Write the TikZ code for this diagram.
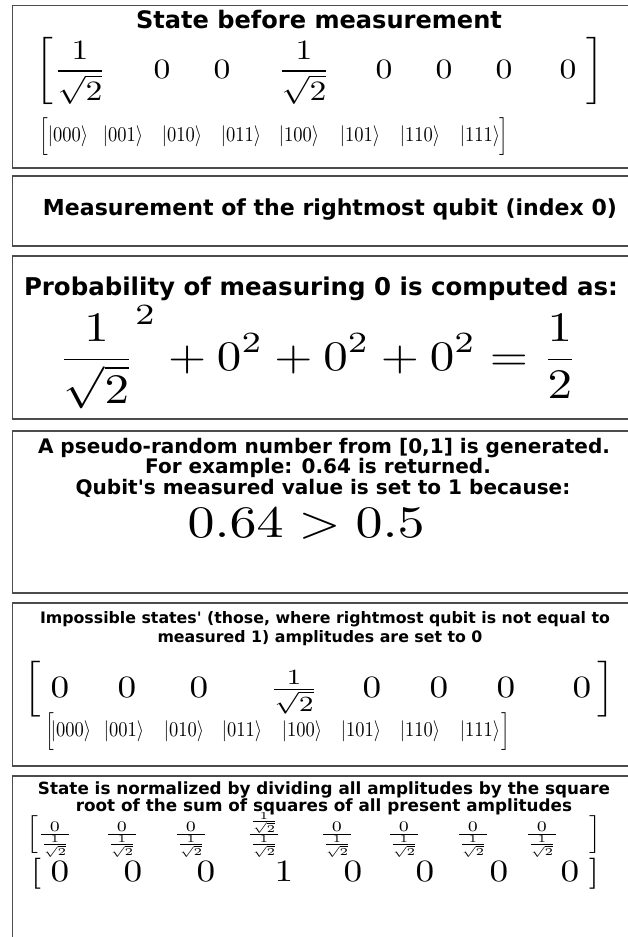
\documentclass[tikz,border=0pt]{standalone}
\usepackage[no-math]{fontspec}
\usepackage{amsmath}
\newfontfamily\vsans{DejaVu Sans}
\newlength\wl
\newcommand\fs[1]{\fontsize{#1}{#1}\selectfont}
\newcommand\bt[1]{{\fs{10}\vsans\bfseries #1}}
\newcommand\setblk[3]{\settowidth\wl{\bt{#3}}\xdef#1{\fpeval{(#2)/(\the\wl)}}}
\newcommand\mt[2]{\scalebox{\fpeval{0.12*#1}}[\fpeval{0.1*#1}]{\fs{10}$#2$}}
\newcommand\lbr[3]{\mt{#1}{\left[\vrule height \fpeval{10*#2/#1}pt depth \fpeval{10*#3/#1}pt width 0pt\right.}}
\newcommand\rbr[3]{\mt{#1}{\left.\vrule height \fpeval{10*#2/#1}pt depth \fpeval{10*#3/#1}pt width 0pt\right]}}
\newcommand\kt[1]{\scalebox{1.85}[2.1]{\fs{10}$\lvert #1\rangle$}}
\newcommand\klb{\scalebox{1.85}[2.1]{\fs{10}$\left[\vrule height 7.6pt depth 4.3pt width 0pt\right.$}}
\newcommand\krb{\scalebox{1.85}[2.1]{\fs{10}$\left.\vrule height 7.6pt depth 4.3pt width 0pt\right]$}}
\AtBeginDocument{%
\setblk{\tsA}{366}{State before measurement}%
\setblk{\tsB}{574}{Measurement of the rightmost qubit (index 0)}%
\setblk{\tsC}{594}{Probability of measuring 0 is computed as:}%
\setblk{\tsD}{572}{A pseudo-random number from [0,1] is generated.}%
\setblk{\tsE}{570}{Impossible states' (those, where rightmost qubit is not equal to}%
\setblk{\tsF}{572}{State is normalized by dividing all amplitudes by the square}}
\begin{document}
\begin{tikzpicture}[x=1pt,y=-1pt,
  panel/.style={draw=black!70,line width=1.2pt},
  txt/.style={anchor=base,inner sep=0pt,text=black},
  mth/.style={anchor=base,inner sep=0pt}]
\useasboundingbox (0,0) rectangle (628,937);
% panels
\draw[panel] (12.5,5.5) rectangle (650,168);
\draw[panel] (12.5,176) rectangle (650,246);
\draw[panel] (12.5,256) rectangle (650,419);
\draw[panel] (12.5,431) rectangle (650,593);
\draw[panel] (12.5,603) rectangle (650,766);
\draw[panel] (12.5,776) rectangle (650,960);

% ---------- panel 1
\node[txt] (t1) at (319,28) {\scalebox{\tsA}{\bt{State before measurement}}};
\node[mth] (m1l) at (46,78) {\lbr{28}{40}{29}};
\node[mth] (m1a) at (80,78) {\mt{28}{\displaystyle\frac{1}{\sqrt{2}}}};
\node[mth] (m1b) at (162,78) {\mt{28}{0}};
\node[mth] (m1c) at (222,78) {\mt{28}{0}};
\node[mth] (m1d) at (304,78) {\mt{28}{\displaystyle\frac{1}{\sqrt{2}}}};
\node[mth] (m1e) at (384,78) {\mt{28}{0}};
\node[mth] (m1f) at (444,78) {\mt{28}{0}};
\node[mth] (m1g) at (504,78) {\mt{28}{0}};
\node[mth] (m1h) at (568,78) {\mt{28}{0}};
\node[mth] (m1r) at (593,78) {\rbr{28}{40}{29}};
% kets 1
\node[mth] (k1l) at (45,141.5) {\klb};
\node[mth] (k1a) at (68,141.5) {\kt{000}};
\node[mth] (k1b) at (123,141.5) {\kt{001}};
\node[mth] (k1c) at (182,141.5) {\kt{010}};
\node[mth] (k1d) at (241,141.5) {\kt{011}};
\node[mth] (k1e) at (299,141.5) {\kt{100}};
\node[mth] (k1f) at (360,141.5) {\kt{101}};
\node[mth] (k1g) at (420,141.5) {\kt{110}};
\node[mth] (k1h) at (480,141.5) {\kt{111}};
\node[mth] (k1r) at (503,141.5) {\krb};

% ---------- panel 2
\node[txt] (t2) at (330,215) {\scalebox{\tsB}{\bt{Measurement of the rightmost qubit (index 0)}}};

% ---------- panel 3
\node[txt] (t3) at (321,295) {\scalebox{\tsC}{\bt{Probability of measuring 0 is computed as:}}};
\node[mth] (e3) at (318,370) {\resizebox{520pt}{\height}{\scalebox{4.2}{\fs{10}$\displaystyle{\frac{1}{\sqrt{2}}}^{2}+0^{2}+0^{2}+0^{2}=\frac{1}{2}$}}};

% ---------- panel 4
\node[txt] (t4a) at (324,453) {\scalebox{\tsD}{\bt{A pseudo-random number from [0,1] is generated.}}};
\node[txt] (t4b) at (318,473) {\scalebox{\tsD}{\bt{For example: 0.64 is returned.}}};
\node[txt] (t4c) at (323,494) {\scalebox{\tsD}{\bt{Qubit's measured value is set to 1 because:}}};
\node[mth] (e4) at (306,537) {\mt{45}{0.64>0.5}};

% ---------- panel 5
\node[txt] (t5a) at (325,623) {\scalebox{\tsE}{\bt{Impossible states' (those, where rightmost qubit is not equal to}}};
\node[txt] (t5b) at (320,642) {\scalebox{\tsE}{\bt{measured 1) amplitudes are set to 0}}};
\node[mth] (m5l) at (35,697) {\lbr{31}{27}{18}};
\node[mth] (m5a) at (60,697) {\mt{31}{0}};
\node[mth] (m5b) at (127,697) {\mt{31}{0}};
\node[mth] (m5c) at (199,697) {\mt{31}{0}};
\node[mth] (m5d) at (294,697) {\mt{31}{\frac{1}{\sqrt{2}}}};
\node[mth] (m5e) at (372,697) {\mt{31}{0}};
\node[mth] (m5f) at (439,697) {\mt{31}{0}};
\node[mth] (m5g) at (506,697) {\mt{31}{0}};
\node[mth] (m5h) at (582,697) {\mt{31}{0}};
\node[mth] (m5r) at (604,697) {\rbr{31}{27}{18}};
% kets 5
\node[mth] (k5l) at (51,736.5) {\klb};
\node[mth] (k5a) at (71,736.5) {\kt{000}};
\node[mth] (k5b) at (124,736.5) {\kt{001}};
\node[mth] (k5c) at (184,736.5) {\kt{010}};
\node[mth] (k5d) at (242,736.5) {\kt{011}};
\node[mth] (k5e) at (302,736.5) {\kt{100}};
\node[mth] (k5f) at (361,736.5) {\kt{101}};
\node[mth] (k5g) at (420,736.5) {\kt{110}};
\node[mth] (k5h) at (480,736.5) {\kt{111}};
\node[mth] (k5r) at (505,736.5) {\krb};

% ---------- panel 6
\node[txt] (t6a) at (324,794) {\scalebox{\tsF}{\bt{State is normalized by dividing all amplitudes by the square}}};
\node[txt] (t6b) at (324,811) {\scalebox{\tsF}{\bt{root of the sum of squares of all present amplitudes}}};
\node[mth] (m6l) at (34,840) {\lbr{21}{21}{14}};
\node[mth] (m6a) at (55,840) {\mt{21}{\frac{0}{\frac{1}{\sqrt{2}}}}};
\node[mth] (m6b) at (122,840) {\mt{21}{\frac{0}{\frac{1}{\sqrt{2}}}}};
\node[mth] (m6c) at (191,840) {\mt{21}{\frac{0}{\frac{1}{\sqrt{2}}}}};
\node[mth] (m6d) at (264,840) {\mt{21}{\frac{\frac{1}{\sqrt{2}}}{\frac{1}{\sqrt{2}}}}};
\node[mth] (m6e) at (337,840) {\mt{21}{\frac{0}{\frac{1}{\sqrt{2}}}}};
\node[mth] (m6f) at (404,840) {\mt{21}{\frac{0}{\frac{1}{\sqrt{2}}}}};
\node[mth] (m6g) at (473,840) {\mt{21}{\frac{0}{\frac{1}{\sqrt{2}}}}};
\node[mth] (m6h) at (542,840) {\mt{21}{\frac{0}{\frac{1}{\sqrt{2}}}}};
\node[mth] (m6r) at (594,840) {\rbr{21}{21}{14}};
\node[mth] (n6l) at (36,881) {\mt{31}{[}};
\node[mth] (n6a) at (60,881) {\mt{31}{0}};
\node[mth] (n6b) at (133,881) {\mt{31}{0}};
\node[mth] (n6c) at (206,881) {\mt{31}{0}};
\node[mth] (n6d) at (284,881) {\mt{31}{1}};
\node[mth] (n6e) at (353,881) {\mt{31}{0}};
\node[mth] (n6f) at (425,881) {\mt{31}{0}};
\node[mth] (n6g) at (499,881) {\mt{31}{0}};
\node[mth] (n6h) at (570,881) {\mt{31}{0}};
\node[mth] (n6r) at (594,881) {\mt{31}{]}};
\end{tikzpicture}
\end{document}
